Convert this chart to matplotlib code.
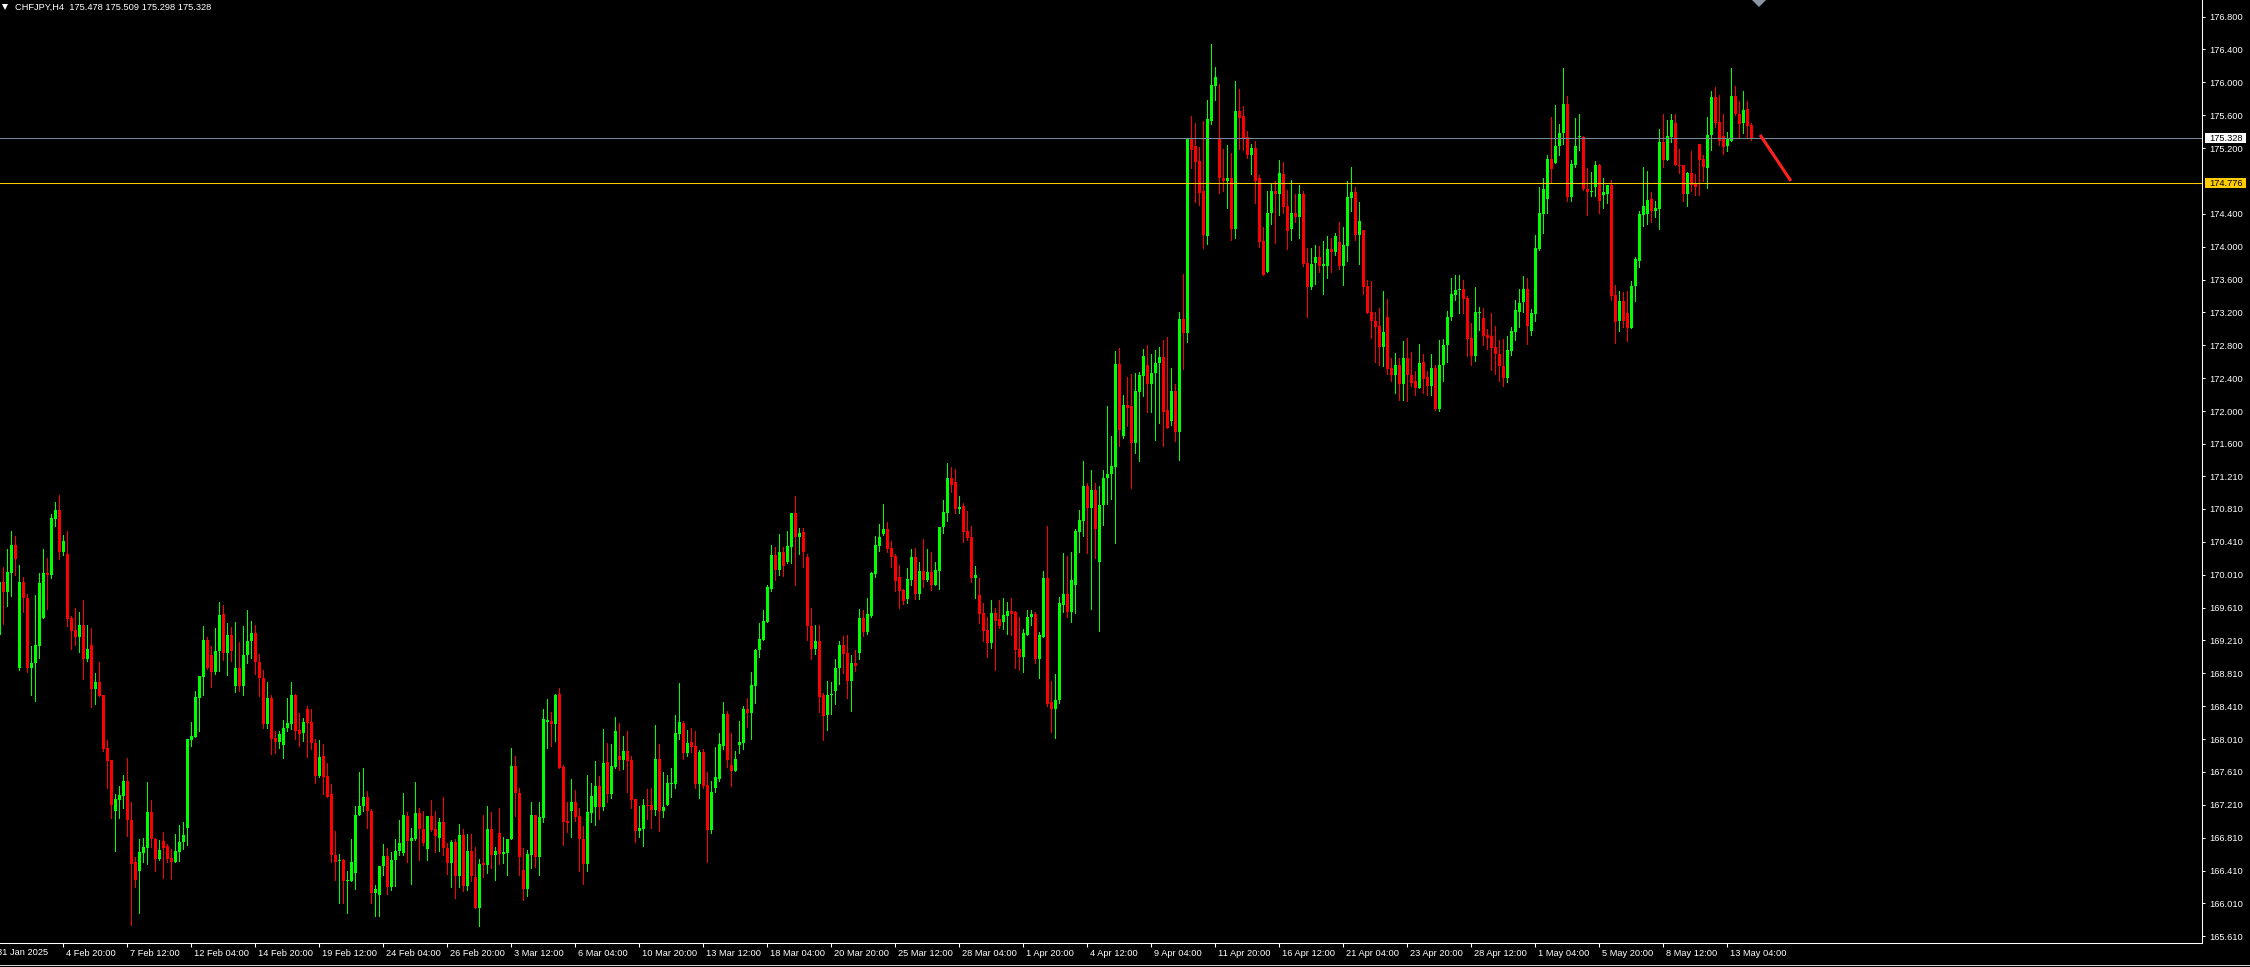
import matplotlib
matplotlib.use("Agg")
import matplotlib.pyplot as plt
from matplotlib.lines import Line2D
from matplotlib.patches import Rectangle
from matplotlib.transforms import ScaledTranslation, blended_transform_factory
import numpy as np

symbol = "CHFJPY,H4"
last_ohlc = ["175.478", "175.509", "175.298", "175.328"]

opens = [
    169.27, 169.92, 169.80, 170.03, 170.37, 168.87, 169.92, 169.73, 168.87, 168.94,
    169.14, 169.48, 170.03, 170.00, 170.69, 170.80, 170.29, 170.26, 169.48, 169.34,
    169.25, 169.40, 168.99, 169.15, 168.62, 168.71, 168.54, 167.90, 167.75, 167.14,
    167.27, 167.32, 167.50, 167.03, 166.51, 166.40, 166.62, 166.68, 167.12, 166.79,
    166.55, 166.77, 166.71, 166.56, 166.52, 166.64, 166.76, 166.93, 168.00, 168.04,
    168.51, 168.77, 169.22, 169.03, 168.82, 169.08, 169.53, 169.06, 169.28, 168.65,
    168.87, 168.65, 169.03, 169.20, 169.30, 168.95, 168.75, 168.19, 168.51, 168.02,
    167.97, 167.94, 168.14, 168.19, 168.55, 168.12, 168.08, 168.38, 168.22, 167.96,
    167.56, 167.80, 167.56, 167.34, 166.60, 166.53, 166.54, 166.28, 166.28, 166.38,
    167.09, 167.20, 167.30, 167.13, 166.14, 166.11, 166.46, 166.59, 166.21, 166.54,
    166.65, 166.62, 167.08, 166.77, 166.80, 167.11, 166.92, 166.67, 167.07, 166.92,
    166.81, 167.00, 166.69, 166.50, 166.76, 166.35, 166.84, 166.22, 166.65, 166.33,
    165.96, 166.50, 166.48, 166.91, 166.60, 166.87, 166.61, 166.62, 166.79, 167.68,
    167.35, 166.42, 166.18, 166.60, 167.09, 166.58, 167.05, 168.22, 168.23, 168.19,
    168.56, 167.67, 167.01, 167.13, 167.24, 167.07, 166.80, 166.49, 167.11, 167.18,
    167.44, 167.18, 167.73, 167.34, 167.67, 167.81, 167.75, 167.86, 167.75, 167.28,
    166.89, 166.91, 167.21, 167.21, 167.15, 167.77, 167.13, 167.21, 167.46, 167.46,
    168.07, 168.21, 167.84, 167.97, 167.92, 167.46, 167.85, 167.45, 166.90, 167.42,
    167.53, 167.92, 168.32, 167.70, 167.62, 167.94, 167.96, 168.37, 168.33, 168.66,
    169.09, 169.22, 169.44, 169.83, 170.25, 170.07, 170.29, 170.17, 170.35, 170.76,
    170.47, 170.53, 170.22, 169.39, 169.10, 169.20, 168.54, 168.30, 168.54, 168.59,
    168.87, 169.16, 169.06, 168.72, 168.94, 169.06, 169.48, 169.31, 169.51, 170.02,
    170.36, 170.50, 170.57, 170.33, 170.24, 169.98, 169.82, 169.71, 169.94, 170.22,
    169.78, 170.05, 169.95, 170.04, 169.88, 170.05, 170.59, 170.76, 171.19, 171.14,
    170.81, 170.85, 170.54, 170.47, 169.97, 169.76, 169.54, 169.34, 169.18, 169.54,
    169.47, 169.44, 169.51, 169.57, 169.55, 169.10, 169.01, 169.28, 169.50, 169.53,
    168.98, 169.25, 169.97, 168.46, 168.38, 168.48, 169.64, 169.77, 169.55, 169.89,
    170.53, 170.66, 171.09, 170.82, 171.04, 170.17, 170.86, 171.18, 171.23, 171.32,
    172.57, 171.70, 172.08, 172.06, 171.61, 172.23, 172.43, 172.56, 172.33, 172.46,
    172.59, 172.66, 172.01, 171.88, 172.25, 171.75, 173.12, 172.95, 175.31, 175.22,
    175.04, 174.68, 174.13, 175.53, 175.96, 175.31, 174.84, 174.80, 174.83, 174.22,
    175.65, 175.59, 175.34, 175.11, 175.20, 174.83, 174.07, 173.69, 174.41, 174.68,
    174.64, 174.89, 174.50, 174.21, 174.41, 174.36, 174.64, 173.80, 173.51, 173.80,
    173.87, 173.76, 173.77, 173.97, 173.93, 174.06, 173.76, 174.01, 174.59, 174.67,
    174.14, 174.20, 173.52, 173.20, 173.10, 173.03, 172.78, 173.15, 172.53, 172.44,
    172.56, 172.33, 172.64, 172.44, 172.36, 172.28, 172.60, 172.41, 172.31, 172.52,
    172.03, 172.56, 172.81, 173.14, 173.41, 173.47, 173.49, 173.37, 172.89, 172.67,
    173.19, 173.13, 172.92, 172.91, 172.78, 172.70, 172.55, 172.40, 172.73, 172.96,
    173.21, 173.33, 173.48, 172.98, 173.18, 173.97, 174.40, 174.58, 175.07, 175.02,
    175.22, 175.38, 175.73, 174.60, 174.99, 175.33, 175.33, 174.70, 174.66, 174.72,
    174.99, 174.63, 174.64, 174.75, 173.41, 173.09, 173.34, 173.19, 173.01, 173.52,
    173.82, 174.39, 174.40, 174.58, 174.44, 174.46, 175.27, 175.06, 175.34, 175.50,
    174.99, 174.99, 174.64, 174.90, 174.78, 175.25, 175.07, 174.96, 175.36, 175.82,
    175.52, 175.35, 175.22, 175.29, 175.83, 175.62, 175.50, 175.67, 175.478,
]

highs = [
    169.95, 170.10, 170.32, 170.54, 170.48, 170.13, 169.98, 169.78, 169.14, 169.76,
    170.03, 170.32, 170.21, 170.75, 170.90, 170.98, 170.49, 170.54, 169.51, 169.61,
    169.55, 169.70, 169.40, 169.36, 168.81, 168.95, 168.54, 168.00, 167.75, 167.34,
    167.44, 167.57, 167.78, 167.24, 166.58, 166.80, 166.81, 167.49, 167.27, 166.81,
    166.78, 166.88, 166.73, 166.67, 166.86, 166.97, 167.00, 168.01, 168.22, 168.59,
    168.78, 169.38, 169.25, 169.14, 169.36, 169.68, 169.64, 169.42, 169.37, 169.44,
    169.19, 169.39, 169.58, 169.45, 169.40, 169.05, 168.85, 168.70, 168.54, 168.11,
    168.11, 168.24, 168.51, 168.70, 168.56, 168.33, 168.27, 168.41, 168.38, 168.01,
    168.00, 167.95, 167.72, 167.46, 166.89, 166.61, 166.55, 166.41, 166.79, 167.20,
    167.61, 167.66, 167.38, 167.16, 166.23, 166.47, 166.73, 166.69, 166.63, 166.80,
    167.02, 167.35, 167.12, 166.93, 167.49, 167.17, 167.14, 167.07, 167.27, 167.13,
    167.05, 167.31, 166.74, 166.78, 166.79, 166.98, 166.91, 166.86, 166.86, 166.70,
    166.55, 167.09, 167.20, 167.12, 166.70, 167.17, 166.82, 166.80, 167.90, 167.81,
    167.42, 166.69, 166.66, 167.24, 167.09, 167.24, 168.38, 168.50, 168.34, 168.56,
    168.63, 167.70, 167.24, 167.52, 167.39, 167.17, 166.95, 167.57, 167.47, 167.74,
    167.56, 168.13, 167.96, 167.95, 168.28, 168.21, 168.05, 168.11, 167.81, 167.28,
    167.20, 167.28, 167.40, 167.42, 168.18, 167.95, 167.61, 167.57, 167.66, 168.30,
    168.69, 168.23, 168.12, 168.14, 168.11, 167.88, 167.89, 167.61, 167.50, 167.91,
    168.08, 168.46, 168.35, 168.08, 167.86, 168.23, 168.41, 168.51, 168.83, 169.11,
    169.42, 169.58, 169.88, 170.37, 170.35, 170.51, 170.35, 170.54, 170.76, 170.97,
    170.58, 170.58, 170.26, 169.60, 169.40, 169.40, 168.57, 168.72, 168.70, 168.99,
    169.20, 169.26, 169.28, 169.03, 169.09, 169.59, 169.58, 169.73, 170.04, 170.48,
    170.63, 170.87, 170.65, 170.42, 170.26, 170.13, 169.84, 170.09, 170.32, 170.33,
    170.16, 170.44, 170.32, 170.29, 170.16, 170.59, 170.92, 171.37, 171.32, 171.30,
    170.97, 170.88, 170.79, 170.60, 170.11, 169.97, 169.67, 169.50, 169.70, 169.60,
    169.70, 169.72, 169.68, 169.73, 169.57, 169.50, 169.35, 169.58, 169.58, 169.56,
    169.31, 170.05, 170.60, 168.72, 168.80, 169.74, 170.27, 170.24, 170.29, 170.56,
    170.80, 171.39, 171.13, 171.28, 171.13, 171.09, 171.28, 172.06, 171.70, 172.73,
    172.77, 172.20, 172.41, 172.45, 172.46, 172.48, 172.75, 172.80, 172.70, 172.74,
    172.78, 172.87, 172.90, 172.52, 172.33, 173.21, 173.67, 175.31, 175.59, 175.50,
    175.21, 175.53, 175.79, 176.46, 176.19, 175.98, 175.19, 175.24, 175.14, 176.01,
    175.92, 175.71, 175.41, 175.25, 175.28, 174.87, 174.24, 174.68, 174.76, 174.80,
    175.06, 175.03, 174.69, 174.81, 174.64, 174.75, 174.68, 173.98, 173.98, 174.02,
    174.01, 174.07, 174.13, 174.10, 174.17, 174.30, 174.24, 174.80, 174.97, 174.73,
    174.54, 174.20, 173.60, 173.58, 173.20, 173.25, 173.46, 173.36, 172.65, 172.71,
    172.64, 172.85, 172.89, 172.72, 172.49, 172.82, 172.70, 172.49, 172.69, 172.56,
    172.86, 172.88, 173.22, 173.62, 173.65, 173.65, 173.59, 173.40, 173.07, 173.51,
    173.27, 173.26, 173.00, 173.19, 173.03, 172.86, 172.88, 172.91, 173.02, 173.35,
    173.48, 173.64, 173.62, 173.24, 174.14, 174.72, 174.84, 175.11, 175.58, 175.72,
    175.49, 176.17, 175.83, 175.06, 175.56, 175.62, 175.35, 174.96, 174.91, 175.04,
    175.01, 174.84, 174.75, 174.81, 173.53, 173.46, 173.45, 173.46, 173.58, 173.87,
    174.44, 174.97, 174.92, 174.67, 174.55, 175.43, 175.61, 175.54, 175.62, 175.61,
    175.19, 174.99, 174.91, 175.17, 174.88, 175.25, 175.12, 175.58, 175.90, 175.94,
    175.84, 175.61, 175.40, 176.17, 175.96, 175.77, 175.89, 175.77, 175.509,
]

lows = [
    169.25, 169.41, 169.63, 169.75, 170.01, 168.85, 169.56, 168.83, 168.55, 168.47,
    169.00, 169.48, 169.59, 169.97, 170.60, 170.20, 170.25, 169.39, 169.11, 169.15,
    169.07, 168.74, 168.96, 168.40, 168.44, 168.53, 167.87, 167.42, 167.05, 166.65,
    167.05, 167.17, 166.83, 165.75, 166.21, 165.90, 166.52, 166.49, 166.70, 166.40,
    166.54, 166.32, 166.51, 166.31, 166.51, 166.53, 166.67, 166.72, 167.93, 168.03,
    168.11, 168.54, 168.86, 168.64, 168.80, 168.84, 168.97, 168.79, 168.96, 168.58,
    168.59, 168.55, 168.93, 169.00, 168.80, 168.53, 168.15, 168.15, 167.83, 167.84,
    167.90, 167.78, 168.11, 168.13, 168.01, 167.92, 167.99, 167.79, 167.89, 167.48,
    167.55, 167.34, 167.31, 166.52, 166.29, 166.01, 166.01, 165.89, 166.28, 166.18,
    167.09, 167.14, 166.93, 166.01, 165.86, 165.86, 166.36, 166.13, 166.17, 166.22,
    166.60, 166.60, 166.51, 166.25, 166.78, 166.54, 166.72, 166.54, 166.89, 166.64,
    166.65, 166.60, 166.37, 166.21, 166.08, 166.21, 166.16, 166.17, 166.28, 165.96,
    165.74, 166.33, 166.38, 166.44, 166.29, 166.49, 166.50, 166.36, 166.79, 167.07,
    166.36, 166.05, 166.10, 166.44, 166.45, 166.36, 167.00, 167.90, 167.92, 167.99,
    167.66, 166.72, 166.88, 166.82, 167.01, 166.40, 166.25, 166.40, 167.00, 166.96,
    167.04, 167.15, 167.24, 167.29, 167.66, 167.63, 167.64, 167.37, 167.17, 166.76,
    166.82, 166.71, 167.04, 166.93, 167.09, 166.89, 167.06, 167.21, 167.31, 167.42,
    168.01, 167.77, 167.80, 167.85, 167.42, 167.29, 167.42, 166.51, 166.87, 167.37,
    167.50, 167.89, 167.67, 167.44, 167.62, 167.84, 167.89, 168.16, 168.01, 168.45,
    169.01, 169.22, 169.44, 169.81, 169.95, 170.00, 169.99, 170.15, 170.15, 169.88,
    170.26, 170.10, 169.22, 168.99, 169.05, 168.34, 168.00, 168.12, 168.32, 168.44,
    168.68, 168.81, 168.51, 168.35, 168.84, 168.99, 169.26, 169.29, 169.49, 169.98,
    170.30, 170.49, 170.29, 170.10, 169.81, 169.61, 169.65, 169.67, 169.88, 169.71,
    169.71, 169.86, 169.93, 169.82, 169.88, 169.83, 170.52, 170.66, 171.01, 170.76,
    170.76, 170.41, 170.43, 169.92, 169.73, 169.42, 169.20, 169.01, 169.12, 168.85,
    169.36, 169.35, 169.29, 169.28, 168.88, 168.85, 168.83, 169.28, 169.40, 168.94,
    168.75, 169.25, 168.41, 168.09, 168.02, 168.45, 169.56, 169.50, 169.43, 169.54,
    170.29, 170.48, 170.27, 169.59, 170.21, 169.33, 170.62, 170.87, 170.93, 170.40,
    171.58, 171.67, 171.82, 171.06, 171.49, 171.39, 172.18, 171.99, 171.99, 171.65,
    171.85, 171.57, 171.80, 171.83, 171.63, 171.40, 172.51, 172.84, 174.96, 174.54,
    174.51, 173.99, 174.03, 175.49, 175.79, 174.65, 174.68, 174.47, 174.08, 174.10,
    175.19, 175.18, 175.08, 174.89, 174.53, 174.00, 173.65, 173.69, 174.28, 174.04,
    174.39, 174.41, 173.97, 174.08, 174.30, 174.10, 173.76, 173.14, 173.49, 173.55,
    173.69, 173.42, 173.62, 173.69, 173.90, 173.73, 173.53, 173.82, 174.43, 174.08,
    173.79, 173.42, 173.19, 172.89, 172.60, 172.56, 172.55, 172.45, 172.36, 172.22,
    172.14, 172.14, 172.12, 172.31, 172.19, 172.28, 172.22, 172.20, 172.20, 172.01,
    172.00, 172.36, 172.60, 173.11, 173.35, 173.19, 173.19, 172.67, 172.56, 172.61,
    172.99, 172.81, 172.75, 172.50, 172.45, 172.36, 172.30, 172.35, 172.68, 172.87,
    173.02, 173.20, 172.82, 172.92, 173.09, 173.96, 174.17, 174.41, 174.79, 175.02,
    175.12, 175.25, 174.55, 174.55, 174.97, 175.18, 174.69, 174.39, 174.62, 174.62,
    174.41, 174.47, 174.53, 173.35, 172.83, 172.98, 173.02, 172.85, 173.01, 173.34,
    173.75, 174.25, 174.28, 174.30, 174.36, 174.22, 174.97, 175.06, 175.27, 174.99,
    174.90, 174.55, 174.50, 174.68, 174.63, 174.63, 174.80, 174.71, 175.18, 175.46,
    175.24, 175.13, 175.16, 175.29, 175.60, 175.32, 175.38, 175.34, 175.298,
]

closes = [
    169.92, 169.80, 170.04, 170.37, 170.20, 169.92, 169.72, 168.87, 168.94, 169.15,
    169.91, 170.03, 170.00, 170.70, 170.80, 170.29, 170.42, 169.47, 169.32, 169.25,
    169.40, 168.99, 169.11, 168.62, 168.71, 168.53, 167.89, 167.74, 167.21, 167.28,
    167.33, 167.50, 167.03, 166.49, 166.29, 166.63, 166.70, 167.12, 166.79, 166.55,
    166.66, 166.69, 166.55, 166.52, 166.65, 166.76, 166.84, 168.01, 168.05, 168.52,
    168.78, 169.22, 168.88, 168.82, 169.08, 169.52, 169.06, 169.28, 169.08, 168.87,
    168.65, 169.03, 169.20, 169.30, 168.95, 168.75, 168.19, 168.51, 168.01, 167.97,
    168.07, 168.15, 168.21, 168.55, 168.11, 168.07, 168.22, 168.21, 167.96, 167.56,
    167.79, 167.55, 167.31, 166.60, 166.52, 166.54, 166.28, 166.30, 166.52, 167.09,
    167.20, 167.30, 167.13, 166.14, 166.18, 166.46, 166.59, 166.21, 166.54, 166.65,
    166.74, 167.09, 166.77, 166.81, 167.11, 166.91, 166.75, 167.07, 166.90, 166.83,
    167.00, 166.68, 166.50, 166.76, 166.35, 166.84, 166.22, 166.65, 166.35, 165.96,
    166.49, 166.48, 166.91, 166.60, 166.65, 166.61, 166.63, 166.79, 167.68, 167.35,
    166.57, 166.18, 166.61, 167.09, 166.58, 167.06, 168.25, 168.24, 168.19, 168.55,
    167.66, 167.00, 166.99, 167.24, 167.06, 166.79, 166.49, 167.12, 167.32, 167.44,
    167.18, 167.72, 167.34, 167.68, 168.11, 167.75, 167.86, 167.74, 167.27, 166.89,
    166.93, 167.21, 167.19, 167.15, 167.77, 167.13, 167.18, 167.47, 167.47, 168.08,
    168.22, 167.84, 167.96, 167.91, 167.46, 167.85, 167.44, 166.90, 167.36, 167.55,
    167.95, 168.32, 167.75, 167.62, 167.77, 167.97, 168.37, 168.33, 168.67, 169.09,
    169.23, 169.45, 169.86, 170.25, 170.07, 170.29, 170.11, 170.36, 170.76, 170.47,
    170.52, 170.29, 169.38, 169.10, 169.20, 168.52, 168.29, 168.55, 168.56, 168.88,
    169.16, 169.05, 168.72, 168.94, 168.90, 169.48, 169.31, 169.53, 170.03, 170.37,
    170.47, 170.57, 170.32, 170.22, 169.93, 169.81, 169.69, 169.96, 170.22, 169.78,
    170.05, 169.94, 170.04, 169.88, 170.07, 170.59, 170.77, 171.19, 171.10, 170.81,
    170.83, 170.53, 170.46, 169.97, 170.00, 169.53, 169.33, 169.18, 169.54, 169.45,
    169.38, 169.52, 169.57, 169.53, 169.09, 169.01, 169.30, 169.50, 169.53, 168.98,
    169.27, 169.97, 168.44, 168.38, 168.48, 169.66, 169.78, 169.55, 169.95, 170.54,
    170.68, 171.09, 170.82, 171.04, 170.56, 170.86, 171.19, 171.24, 171.33, 172.57,
    171.77, 172.08, 172.04, 171.61, 172.24, 172.44, 172.67, 172.33, 172.46, 172.59,
    172.66, 171.99, 171.80, 172.25, 171.74, 173.12, 172.95, 175.31, 175.18, 175.03,
    174.65, 174.14, 175.55, 175.97, 176.07, 174.83, 174.80, 174.83, 174.22, 175.65,
    175.56, 175.32, 175.11, 175.20, 174.80, 174.06, 173.65, 174.41, 174.68, 174.64,
    174.90, 174.48, 174.19, 174.41, 174.36, 174.64, 173.79, 173.51, 173.79, 173.88,
    173.77, 173.79, 173.97, 173.93, 174.13, 173.76, 174.02, 174.61, 174.67, 174.14,
    174.31, 173.51, 173.19, 173.09, 173.02, 172.78, 172.96, 172.51, 172.44, 172.56,
    172.33, 172.64, 172.44, 172.34, 172.28, 172.59, 172.39, 172.31, 172.53, 172.03,
    172.56, 172.81, 173.15, 173.42, 173.47, 173.49, 173.36, 172.88, 172.67, 173.20,
    173.20, 172.91, 172.89, 172.77, 172.69, 172.55, 172.40, 172.74, 172.97, 173.23,
    173.32, 173.48, 173.03, 173.19, 173.98, 174.41, 174.70, 175.07, 174.95, 175.23,
    175.38, 175.73, 174.61, 175.00, 175.22, 175.34, 174.70, 174.66, 174.67, 174.99,
    174.55, 174.66, 174.75, 173.40, 173.08, 173.34, 173.09, 173.01, 173.52, 173.85,
    174.40, 174.50, 174.57, 174.44, 174.47, 175.27, 175.05, 175.35, 175.54, 174.99,
    174.98, 174.64, 174.90, 174.75, 174.72, 175.06, 174.97, 175.36, 175.82, 175.50,
    175.29, 175.21, 175.32, 175.83, 175.61, 175.49, 175.66, 175.47, 175.328,
]

first_date = "31 Jan 2025"
date_labels = [
    "4 Feb 20:00", "7 Feb 12:00", "12 Feb 04:00", "14 Feb 20:00", "19 Feb 12:00",
    "24 Feb 04:00", "26 Feb 20:00", "3 Mar 12:00", "6 Mar 04:00", "10 Mar 20:00",
    "13 Mar 12:00", "18 Mar 04:00", "20 Mar 20:00", "25 Mar 12:00", "28 Mar 04:00",
    "1 Apr 20:00", "4 Apr 12:00", "9 Apr 04:00", "11 Apr 20:00", "16 Apr 12:00",
    "21 Apr 04:00", "23 Apr 20:00", "28 Apr 12:00", "1 May 04:00", "5 May 20:00",
    "8 May 12:00", "13 May 04:00",
]

price_labels = [
    "176.800", "176.400", "176.000", "175.600", "175.200", "174.400", "174.000",
    "173.600", "173.200", "172.800", "172.400", "172.000", "171.600", "171.210",
    "170.810", "170.410", "170.010", "169.610", "169.210", "168.810", "168.410",
    "168.010", "167.610", "167.210", "166.810", "166.410", "166.010", "165.610",
]

bid_price = 175.328
level_price = 174.776
arrow_bars = [440.2, 447.9]
arrow_prices = [175.36, 174.80]

W, H = 2250, 967
font = ["Liberation Sans", "DejaVu Sans"]
fs = 6.7

fig = plt.figure(figsize=(W / 100, H / 100), dpi=100, facecolor="black")
ax = fig.add_axes([0, 1 - 943 / H, 2202 / W, 943 / H])
ax.set_facecolor("black")

# bougies
idx = np.arange(len(closes))
o = np.array(opens)
c = np.array(closes)
hi = np.array(highs)
lo = np.array(lows)
couleurs = np.where(c >= o, "#00ff00", "#ff0000")
ax.vlines(idx, lo, hi, colors=couleurs, linewidth=0.72, antialiased=False)
ax.bar(idx, np.maximum(np.abs(c - o), 0.012), bottom=np.minimum(o, c),
       width=0.62, color=couleurs, linewidth=0, antialiased=False)

# niveaux
ax.axhline(bid_price, color="#778899", linewidth=0.75)
ax.axhline(level_price, color="#ffcc00", linewidth=0.75)
ax.plot(arrow_bars, arrow_prices, color="#ff2020", linewidth=2.2,
        solid_capstyle="butt")
ax.plot([440], [177.0], marker="D", markersize=7, color="#8a96a4",
        markeredgewidth=0, clip_on=True)

ax.set_xlim(0.175, 550.675)
ax.set_ylim(165.529, 177.001)

for s in ["top", "left"]:
    ax.spines[s].set_visible(False)
for s in ["right", "bottom"]:
    ax.spines[s].set_color("white")
    ax.spines[s].set_linewidth(0.75)

# axe des prix
ax.yaxis.tick_right()
ax.set_yticks([float(p) for p in price_labels])
ax.set_yticklabels(price_labels)
ax.tick_params(axis="y", direction="out", length=2.5, width=0.75, color="white",
               pad=2.5, labelsize=fs, labelcolor="white")

# axe du temps
ax.set_xticks([16 * (k + 1) for k in range(len(date_labels))])
ax.set_xticklabels(date_labels, ha="left")
ax.tick_params(axis="x", direction="out", length=3, width=0.75, color="white",
               pad=1.0, labelsize=fs, labelcolor="white")
shift = ScaledTranslation(3 / 100, 0, fig.dpi_scale_trans)
for lab in ax.get_xticklabels() + ax.get_yticklabels():
    lab.set_fontfamily(font)
for lab in ax.get_xticklabels():
    lab.set_transform(lab.get_transform() + shift)

trans = blended_transform_factory(ax.transData, ax.transAxes)
ax.text(-0.6, -5.0 / 943, first_date, transform=trans, ha="left", va="top",
        fontsize=fs, color="white", family=font, clip_on=False)

# étiquettes de prix à droite
ytrans = blended_transform_factory(fig.transFigure, ax.transData)
for prix, bg in [(bid_price, "white"), (level_price, "#ffcc00")]:
    yd = ax.transData.transform((0, prix))[1]
    fig.patches.append(Rectangle((2204.5 / W, (yd - 5) / H), 41.5 / W, 10 / H,
                                 transform=fig.transFigure, facecolor=bg,
                                 edgecolor="none"))
    fig.text(2209 / W, prix, f"{prix:.3f}", transform=ytrans, ha="left",
             va="center_baseline", fontsize=fs, color="black", family=font)

# titre
fig.add_artist(Line2D([5 / W], [1 - 7 / H], marker="v", markersize=4,
                      color="white", markeredgewidth=0, transform=fig.transFigure))
fig.text(15 / W, 1 - 7.5 / H, symbol + "  " + " ".join(last_ohlc), ha="left",
         va="center", fontsize=fs, color="white", family=font)

# barre du bas
fig.add_artist(Line2D([0, 1], [1 - 964.5 / H] * 2, color="#d0d0d0",
                      linewidth=0.75, transform=fig.transFigure))
fig.add_artist(Line2D([0, 92 / W], [1 - 966.5 / H] * 2, color="#808080",
                      linewidth=0.75, transform=fig.transFigure))
fig.add_artist(Line2D([94 / W, 1], [1 - 966.5 / H] * 2, color="white",
                      linewidth=0.75, transform=fig.transFigure))

fig.savefig("out.png", dpi=100, facecolor="black")
